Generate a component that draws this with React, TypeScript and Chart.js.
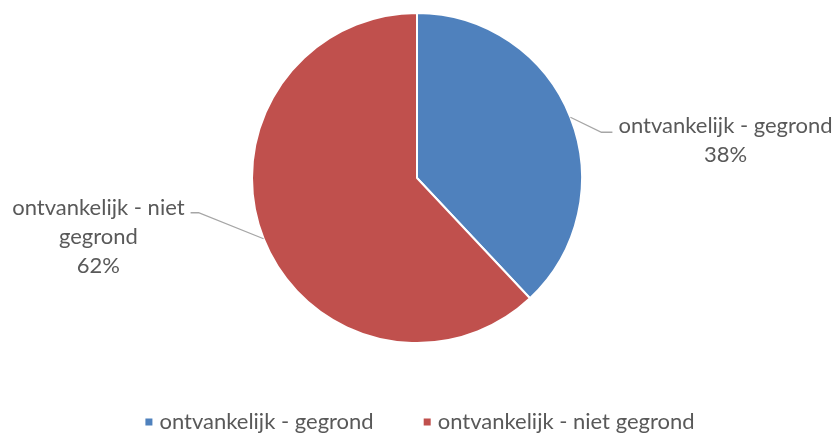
import React, { useEffect, useRef } from "react";
import { Chart, registerables } from "chart.js";

Chart.register(...registerables);

const categories = ["ontvankelijk - gegrond", "ontvankelijk - niet gegrond"];
const values = [38, 62];
const colors = ["#4F81BD", "#C0504D"];
const labelLines = [["ontvankelijk - gegrond", "38%"], ["ontvankelijk - niet", "gegrond", "62%"]];

const FONT = "22px Lato, sans-serif";
const TEXT = "#595959";

const labelPlugin = {
  id: "outerLabels",
  afterDraw(chart: any) {
    const ctx = chart.ctx as CanvasRenderingContext2D;
    const meta = chart.getDatasetMeta(0);
    ctx.save();
    ctx.font = FONT;
    ctx.fillStyle = TEXT;
    ctx.textBaseline = "middle";
    const lh = 29;
    meta.data.forEach((arc: any, i: number) => {
      const mid = (arc.startAngle + arc.endAngle) / 2;
      const sx = arc.x + Math.cos(mid) * arc.outerRadius;
      const sy = arc.y + Math.sin(mid) * arc.outerRadius;
      const right = Math.cos(mid) > 0;
      const ex = right ? sx + 31 : sx - 65;
      const ey = right ? sy + 15 : sy - 26;
      const hx = right ? ex + 11 : ex - 8;
      ctx.strokeStyle = "#A6A6A6";
      ctx.lineWidth = 1.3;
      ctx.beginPath();
      ctx.moveTo(sx, sy);
      ctx.lineTo(ex, ey);
      ctx.lineTo(hx, ey);
      ctx.stroke();
      const lines = labelLines[i];
      ctx.textAlign = "center";
      const w = ctx.measureText(lines[0]).width;
      const cx = right ? hx + 6 + w / 2 : hx - 6 - w / 2;
      const y0 = right ? ey - 6 : ey - 5;
      lines.forEach((t, k) => ctx.fillText(t, cx, y0 + k * lh));
    });
    // legend
    const box = 7;
    const gap = 7;
    const spacing = 50;
    const widths = categories.map((c) => ctx.measureText(c).width);
    const total = widths.reduce((a, w) => a + box + gap + w, 0) + spacing * (categories.length - 1);
    let x = 420 - total / 2;
    const ly = 422;
    ctx.textAlign = "left";
    categories.forEach((c, i) => {
      ctx.fillStyle = colors[i];
      ctx.fillRect(x, ly - box / 2, box, box);
      x += box + gap;
      ctx.fillStyle = TEXT;
      ctx.fillText(c, x, ly);
      x += widths[i] + spacing;
    });
    ctx.restore();
  },
};

export default function App() {
  const ref = useRef<HTMLCanvasElement>(null);
  useEffect(() => {
    document.body.style.margin = "0";
    const chart = new Chart(ref.current!, {
      type: "pie",
      data: {
        labels: categories,
        datasets: [
          {
            data: values,
            backgroundColor: colors,
            borderColor: "#FFFFFF",
            borderWidth: 2,
          },
        ],
      },
      options: {
        animation: false,
        responsive: false,
        layout: { padding: { top: 12, bottom: 92, left: 198, right: 201 } },
        plugins: { legend: { display: false }, tooltip: { enabled: false } },
      },
      plugins: [labelPlugin],
    });
    return () => chart.destroy();
  }, []);
  return (
    <div style={{ width: 837, height: 436, background: "#fff" }}>
      <canvas ref={ref} width={837} height={436} style={{ display: "block" }} />
    </div>
  );
}
